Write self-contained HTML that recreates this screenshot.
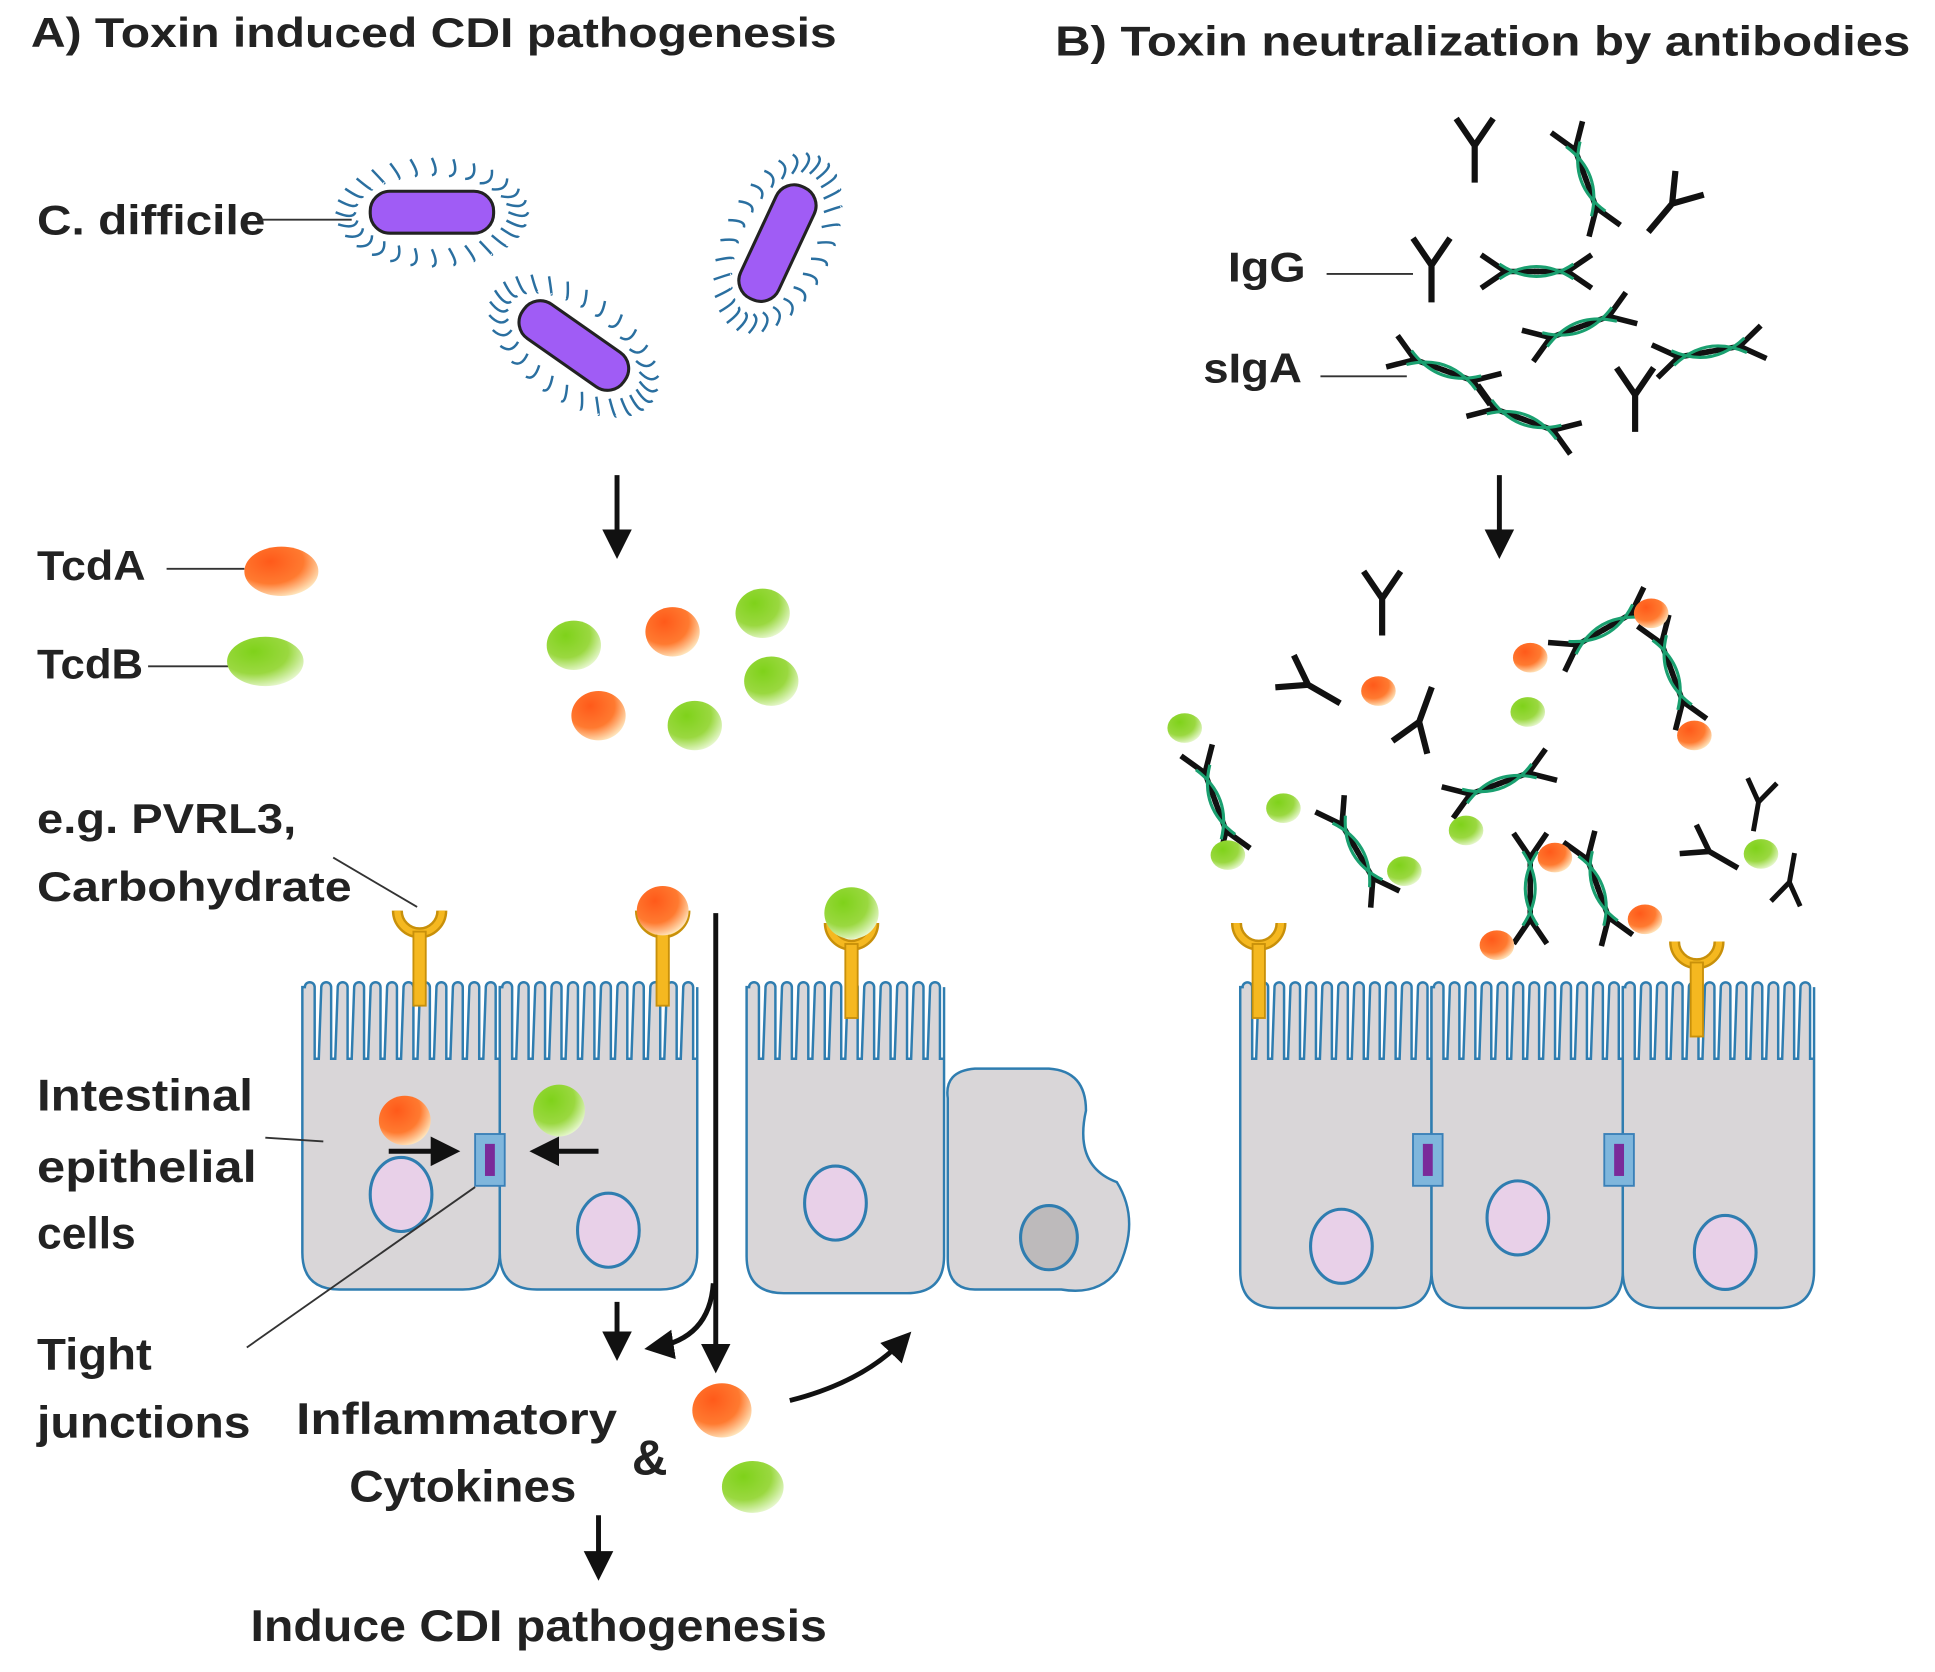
<!DOCTYPE html>
<html><head><meta charset="utf-8"><style>
html,body{margin:0;padding:0;background:#fff;}
svg{display:block}
text{font-family:"Liberation Sans",sans-serif;font-weight:bold;fill:#222;}
</style></head><body>
<svg id="s" width="1935" height="1672" viewBox="0 0 1568 1355" preserveAspectRatio="none" xmlns="http://www.w3.org/2000/svg">
<defs>
<radialGradient id="og" cx="35%" cy="30%" r="75%"><stop offset="0" stop-color="#ff5a1a"/><stop offset="0.6" stop-color="#ff7a30"/><stop offset="1" stop-color="#ffe8c0"/></radialGradient>
<radialGradient id="gg" cx="35%" cy="30%" r="75%"><stop offset="0" stop-color="#7fd21a"/><stop offset="0.6" stop-color="#9ad840"/><stop offset="1" stop-color="#e8f8d0"/></radialGradient>
<marker id="ar" markerWidth="8" markerHeight="8" refX="4" refY="4" orient="auto" markerUnits="strokeWidth"><path d="M0,1 L6,4 L0,7 z" fill="#111"/></marker>
<g id="rec"><path d="M-18,-22 A18,18 0 0 0 18,-22" fill="none" stroke="#c8900a" stroke-width="9"/><path d="M-18,-22 A18,18 0 0 0 18,-22" fill="none" stroke="#f5b820" stroke-width="5"/><rect x="-5" y="-5" width="10" height="60" fill="#f5b820" stroke="#c8900a" stroke-width="1.5"/></g>
<g id="tj"><rect x="-12" y="-21" width="24" height="42" fill="#7fb6dc" stroke="#3a80b8" stroke-width="1.5"/><rect x="-4" y="-13" width="8" height="26" fill="#7a2a9a"/></g>
<g id="Y"><path d="M0,0 L0,30 M0,0 L-15,-22 M0,0 L15,-22" stroke="#111" stroke-width="5" fill="none" stroke-linecap="butt"/></g>
<g id="A2"><use href="#Y" transform="rotate(-90) translate(0,-25) scale(0.9)"/><use href="#Y" transform="rotate(90) translate(0,-25) scale(0.9)"/><path d="M-30,-6 Q0,14 30,-6 M-30,6 Q0,-14 30,6" stroke="#1aa070" stroke-width="2.5" fill="none"/></g>
</defs>
<g id="root">
<text x="25" y="38" font-size="34" textLength="653" lengthAdjust="spacingAndGlyphs">A) Toxin induced CDI pathogenesis</text>
<text x="855" y="45" font-size="34" textLength="693" lengthAdjust="spacingAndGlyphs">B) Toxin neutralization by antibodies</text>
<text x="30" y="190" font-size="34" textLength="185" lengthAdjust="spacingAndGlyphs">C. difficile</text>
<line x1="210" y1="178" x2="285" y2="178" stroke="#333" stroke-width="1.5"/>
<g id="bac"></g>
<line x1="500" y1="385" x2="500" y2="445" stroke="#111" stroke-width="4" marker-end="url(#ar)"/>
<text x="30" y="470" font-size="34" textLength="88" lengthAdjust="spacingAndGlyphs">TcdA</text>
<line x1="135" y1="461" x2="198" y2="461" stroke="#333" stroke-width="1.5"/>
<ellipse cx="228" cy="463" rx="30" ry="20" fill="url(#og)"/>
<text x="30" y="550" font-size="34" textLength="86" lengthAdjust="spacingAndGlyphs">TcdB</text>
<line x1="120" y1="540" x2="185" y2="540" stroke="#333" stroke-width="1.5"/>
<ellipse cx="215" cy="536" rx="31" ry="20" fill="url(#gg)"/>
<g id="tox"></g>
<text x="30" y="675" font-size="34" textLength="210" lengthAdjust="spacingAndGlyphs">e.g. PVRL3,</text>
<text x="30" y="730" font-size="34" textLength="255" lengthAdjust="spacingAndGlyphs">Carbohydrate</text>
<line x1="270" y1="695" x2="338" y2="735" stroke="#333" stroke-width="1.5"/>
<g id="cells"></g>
<text x="30" y="900" font-size="36" textLength="175" lengthAdjust="spacingAndGlyphs">Intestinal</text>
<text x="30" y="958" font-size="36" textLength="178" lengthAdjust="spacingAndGlyphs">epithelial</text>
<text x="30" y="1012" font-size="36" textLength="80" lengthAdjust="spacingAndGlyphs">cells</text>
<line x1="215" y1="922" x2="262" y2="925" stroke="#333" stroke-width="1.5"/>
<text x="30" y="1110" font-size="36" textLength="93" lengthAdjust="spacingAndGlyphs">Tight</text>
<text x="30" y="1165" font-size="36" textLength="173" lengthAdjust="spacingAndGlyphs">junctions</text>
<line x1="200" y1="1092" x2="385" y2="962" stroke="#333" stroke-width="1.5"/>
<line x1="580" y1="740" x2="580" y2="1105" stroke="#111" stroke-width="4" marker-end="url(#ar)"/>
<path d="M578,1040 Q575,1085 530,1092" stroke="#111" stroke-width="4" fill="none" marker-end="url(#ar)"/>
<line x1="500" y1="1055" x2="500" y2="1095" stroke="#111" stroke-width="4" marker-end="url(#ar)"/>
<line x1="315" y1="933" x2="365" y2="933" stroke="#111" stroke-width="4" marker-end="url(#ar)"/>
<line x1="485" y1="933" x2="437" y2="933" stroke="#111" stroke-width="4" marker-end="url(#ar)"/>
<text x="240" y="1162" font-size="36" textLength="260" lengthAdjust="spacingAndGlyphs">Inflammatory</text>
<text x="283" y="1217" font-size="36" textLength="184" lengthAdjust="spacingAndGlyphs">Cytokines</text>
<text x="512" y="1195" font-size="40">&amp;</text>
<ellipse cx="585" cy="1143" rx="24" ry="22" fill="url(#og)"/>
<ellipse cx="610" cy="1205" rx="25" ry="21" fill="url(#gg)"/>
<path d="M640,1135 Q700,1120 733,1085" stroke="#111" stroke-width="4" fill="none" marker-end="url(#ar)"/>
<line x1="485" y1="1228" x2="485" y2="1273" stroke="#111" stroke-width="4" marker-end="url(#ar)"/>
<text x="203" y="1330" font-size="36" textLength="467" lengthAdjust="spacingAndGlyphs">Induce CDI pathogenesis</text>
<text x="995" y="228" font-size="34" textLength="63" lengthAdjust="spacingAndGlyphs">IgG</text>
<line x1="1075" y1="222" x2="1145" y2="222" stroke="#333" stroke-width="1.5"/>
<text x="975" y="310" font-size="34" textLength="80" lengthAdjust="spacingAndGlyphs">sIgA</text>
<line x1="1070" y1="305" x2="1140" y2="305" stroke="#333" stroke-width="1.5"/>
<line x1="1215" y1="385" x2="1215" y2="445" stroke="#111" stroke-width="4" marker-end="url(#ar)"/>
<g id="ab"></g>
</g>
</svg>
<script>
var NS="http://www.w3.org/2000/svg";
function el(p,t,a){var e=document.createElementNS(NS,t);for(var k in a)e.setAttribute(k,a[k]);document.getElementById(p).appendChild(e);return e;}
[[350,172,0],[465,280,35],[630,197,-65]].forEach(function(b){
 var g=el('bac','g',{transform:'translate('+b[0]+','+b[1]+') rotate('+b[2]+')'});
 var h='';
 for(var i=0;i<28;i++){var a=i/28*Math.PI*2;var x=Math.cos(a)*62,y=Math.sin(a)*30;var x2=Math.cos(a)*78,y2=Math.sin(a)*44;
  h+='M'+x.toFixed(1)+','+y.toFixed(1)+' Q'+((x+x2)/2+6).toFixed(1)+','+((y+y2)/2+6).toFixed(1)+' '+x2.toFixed(1)+','+y2.toFixed(1)+' ';}
 var p=document.createElementNS(NS,'path');p.setAttribute('d',h);p.setAttribute('stroke','#2a6fa0');p.setAttribute('stroke-width','2');p.setAttribute('fill','none');g.appendChild(p);
 var r=document.createElementNS(NS,'rect');r.setAttribute('x',-50);r.setAttribute('y',-17);r.setAttribute('width',100);r.setAttribute('height',34);r.setAttribute('rx',16);r.setAttribute('fill','#a05cf5');r.setAttribute('stroke','#222');r.setAttribute('stroke-width','2.5');g.appendChild(r);
});
[[465,523,'g'],[545,512,'o'],[618,497,'g'],[625,552,'g'],[485,580,'o'],[563,588,'g']].forEach(function(t){
 el('tox','ellipse',{cx:t[0],cy:t[1],rx:22,ry:20,fill:t[2]=='o'?'url(#og)':'url(#gg)'});});
function cell(x1,x2,yb,nuc,grey){
 var n=Math.round((x2-x1)/13);var w=(x2-x1)/n;
 var d='M'+x1+','+(yb-30)+' L'+x1+',800 ';
 for(var i=0;i<n;i++){var x=x1+i*w;d+='L'+(x+w*0.15)+',800 A'+(w*0.3)+','+(w*0.3)+' 0 0 1 '+(x+w*0.75)+',800 L'+(x+w*0.75)+',858 L'+(x+w)+',858 L'+(x+w)+','+(i==n-1?800:858)+' ';}
 d+='L'+x2+','+(yb-30)+' Q'+x2+','+yb+' '+(x2-30)+','+yb+' L'+(x1+30)+','+yb+' Q'+x1+','+yb+' '+x1+','+(yb-30)+' Z';
 el('cells','path',{d:d,fill:'#d9d6d8',stroke:'#2f7db0','stroke-width':2});
 el('cells','ellipse',{cx:nuc[0],cy:nuc[1],rx:25,ry:30,fill:grey?'#bdbabb':'#e8d0e8',stroke:'#2f7db0','stroke-width':2.5});
}
cell(245,405,1045,[325,968]);cell(405,565,1045,[493,997]);cell(605,765,1048,[677,975]);
el('cells','path',{d:'M768,890 Q765,868 790,866 L850,866 Q880,868 880,900 Q870,945 905,958 Q925,990 905,1030 Q890,1050 860,1045 L790,1045 Q768,1045 768,1020 Z',fill:'#d9d6d8',stroke:'#2f7db0','stroke-width':2});
el('cells','ellipse',{cx:850,cy:1003,rx:23,ry:26,fill:'#bdbabb',stroke:'#2f7db0','stroke-width':2.5});
cell(1005,1160,1060,[1087,1010]);cell(1160,1315,1060,[1230,987]);cell(1315,1470,1060,[1398,1015]);
[[340,760],[537,760],[690,770],[1020,770],[1375,785]].forEach(function(r){el('cells','use',{href:'#rec',transform:'translate('+r[0]+','+r[1]+')'});});
el('cells','ellipse',{cx:537,cy:738,rx:21,ry:20,fill:'url(#og)'});
el('cells','ellipse',{cx:690,cy:740,rx:22,ry:21,fill:'url(#gg)'});
el('cells','ellipse',{cx:328,cy:908,rx:21,ry:20,fill:'url(#og)'});
el('cells','ellipse',{cx:453,cy:900,rx:21,ry:21,fill:'url(#gg)'});
[[397,940],[1157,940],[1312,940]].forEach(function(t){el('cells','use',{href:'#tj',transform:'translate('+t[0]+','+t[1]+')'});});
var Ys=[[1195,118,0,1],[1160,215,0,1],[1325,320,0,1],[1355,165,40,1],[1120,485,0,1],[1060,555,-60,1],[1150,585,200,1],[1425,650,10,0.8],[1385,690,-60,0.9],[1450,715,190,0.8]];
Ys.forEach(function(y){el('ab','use',{href:'#Y',transform:'translate('+y[0]+','+y[1]+') rotate('+y[2]+') scale('+y[3]+')'});});
var As=[[1285,145,70],[1245,220,0],[1280,265,-20],[1385,285,-10],[1170,300,20],[1235,340,20],[1300,510,-30],[1355,545,70],[1215,635,-20],[985,650,70],[1100,690,60],[1240,720,90],[1295,720,70]];
As.forEach(function(a){el('ab','use',{href:'#A2',transform:'translate('+a[0]+','+a[1]+') rotate('+a[2]+')'});});
[[1240,533,'o'],[1338,497,'o'],[1373,596,'o'],[1117,560,'o'],[1238,577,'g'],[960,590,'g'],[1040,655,'g'],[1188,673,'g'],[995,693,'g'],[1138,706,'g'],[1260,695,'o'],[1333,745,'o'],[1213,766,'o'],[1427,692,'g']].forEach(function(t){
 el('ab','ellipse',{cx:t[0],cy:t[1],rx:14,ry:12,fill:t[2]=='o'?'url(#og)':'url(#gg)'});});
</script>
</body></html>
